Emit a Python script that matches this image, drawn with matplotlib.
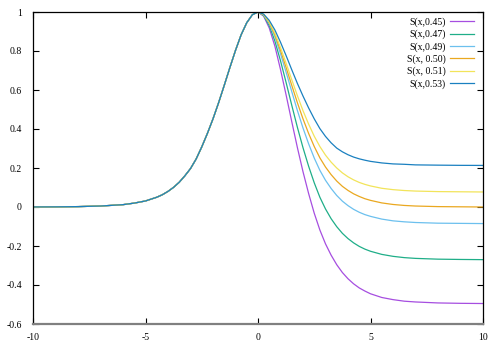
import matplotlib
matplotlib.use("Agg")
import matplotlib.pyplot as plt

plt.rcParams['font.family'] = ['Liberation Serif', 'DejaVu Serif']

# x positions
x_left = [-10, -9, -8, -7, -6, -5.5, -5, -4.5, -4.25, -4, -3.75, -3.5, -3.25,
          -3, -2.75, -2.5, -2.25, -2, -1.75, -1.5, -1.25, -1, -0.75, -0.5, -0.25]
x_right = [0, 0.25, 0.5, 0.75, 1, 1.25, 1.5, 1.75, 2, 2.25, 2.5, 2.75, 3,
           3.25, 3.5, 3.75, 4, 4.25, 4.5, 4.75, 5, 5.5, 6, 6.5, 7, 8, 9, 10]

# left half is the same for every curve
y_left = [0.0003, 0.0008, 0.002, 0.005, 0.012, 0.02, 0.031, 0.05, 0.063, 0.08,
          0.101, 0.127, 0.16, 0.197, 0.246, 0.308, 0.377, 0.452, 0.535, 0.624,
          0.715, 0.803, 0.883, 0.945, 0.986]

s045 = [1.0, 0.979, 0.918, 0.825, 0.705, 0.574, 0.438, 0.305, 0.181, 0.069,
        -0.032, -0.118, -0.189, -0.247, -0.296, -0.336, -0.368, -0.394,
        -0.415, -0.431, -0.445, -0.464, -0.475, -0.483, -0.487, -0.492,
        -0.494, -0.495]
s047 = [1.0, 0.982, 0.930, 0.851, 0.750, 0.638, 0.522, 0.409, 0.304, 0.209,
        0.124, 0.050, -0.010, -0.060, -0.101, -0.135, -0.162, -0.184,
        -0.202, -0.216, -0.227, -0.243, -0.253, -0.2596, -0.2635, -0.2675,
        -0.269, -0.270]
s049 = [1.0, 0.985, 0.940, 0.873, 0.786, 0.691, 0.592, 0.495, 0.405, 0.324,
        0.251, 0.188, 0.137, 0.095, 0.059, 0.030, 0.007, -0.012, -0.027,
        -0.039, -0.048, -0.062, -0.071, -0.076, -0.0795, -0.083, -0.084,
        -0.085]
s050 = [1.0, 0.986, 0.945, 0.883, 0.803, 0.715, 0.624, 0.535, 0.452, 0.377,
        0.310, 0.252, 0.205, 0.166, 0.133, 0.106, 0.085, 0.0675, 0.054,
        0.0425, 0.034, 0.021, 0.013, 0.008, 0.005, 0.002, 0.001, 0.0]
s051 = [1.0, 0.987, 0.949, 0.892, 0.818, 0.737, 0.653, 0.571, 0.494, 0.425,
        0.363, 0.310, 0.266, 0.230, 0.200, 0.175, 0.155, 0.139, 0.126,
        0.116, 0.108, 0.096, 0.089, 0.0845, 0.0817, 0.079, 0.078, 0.077]
s053 = [1.0, 0.989, 0.957, 0.908, 0.845, 0.776, 0.704, 0.634, 0.569, 0.508,
        0.452, 0.402, 0.362, 0.329, 0.302, 0.283, 0.268, 0.256, 0.247,
        0.240, 0.234, 0.226, 0.221, 0.219, 0.216, 0.2146, 0.2136, 0.2132]

labels = ['S(x,0.45)', 'S(x,0.47)', 'S(x,0.49)', 'S(x, 0.50)', 'S(x, 0.51)', 'S(x,0.53)']
colors = ['#a64ee0', '#1fae88', '#6cc0ee', '#eaa820', '#f2e45a', '#1a80c0']
series = [s045, s047, s049, s050, s051, s053]

fig = plt.figure(figsize=(4.98, 3.5), dpi=100)
ax = fig.add_axes([33 / 498, 26 / 350, 450 / 498, 312 / 350])

for ys, lab, c in zip(series, labels, colors):
    ax.plot(x_left + x_right, y_left + ys, color=c, lw=0.9, label=lab)

ax.set_xlim(-10, 10)
ax.set_ylim(-0.6, 1)
ax.set_xticks([-10, -5, 0, 5, 10])
ax.set_yticks([-0.6, -0.4, -0.2, 0, 0.2, 0.4, 0.6, 0.8, 1])
ax.set_yticklabels(['-0.6', '-0.4', '-0.2', '0', '0.2', '0.4', '0.6', '0.8', '1'])
ax.set_xticklabels(['-10', '-5', '0', '5', '10'])
ax.tick_params(direction='in', length=4, width=0.8, labelsize=7,
               top=True, right=True)
ax.tick_params(axis='y', pad=8)
ax.tick_params(axis='x', pad=6.5)
for s in ax.spines.values():
    s.set_linewidth(0.9)
ax.spines['bottom'].set_color('#808080')
ax.spines['bottom'].set_linewidth(1.6)

ax.legend(loc='upper right', bbox_to_anchor=(0.997, 1.008), frameon=False,
          markerfirst=False, fontsize=7, handlelength=2.5, handletextpad=0.4,
          labelspacing=0.28, borderpad=0.3)

fig.savefig('out.png', dpi=100)
